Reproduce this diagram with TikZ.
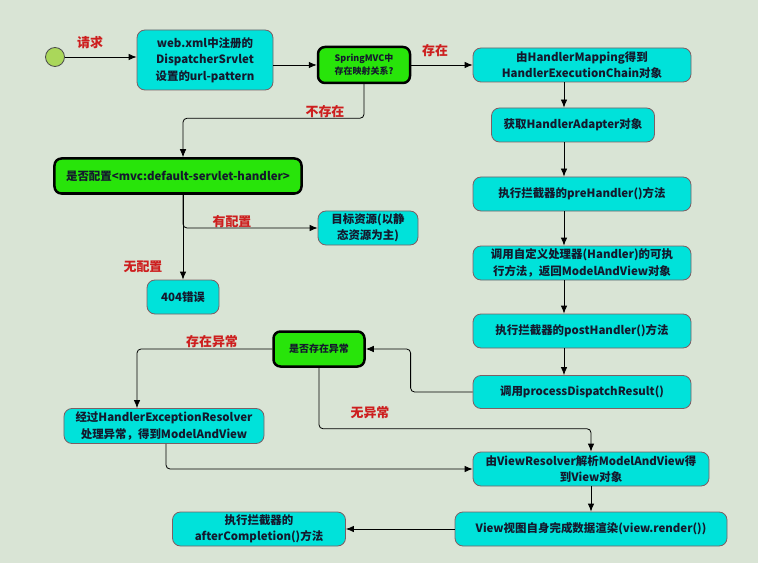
\documentclass[tikz,border=0pt]{standalone}
\usepackage{fontspec}
\setmainfont{Noto Sans CJK SC}
\usetikzlibrary{arrows.meta}

\definecolor{bgcol}{RGB}{217,228,213}
\definecolor{boxcyan}{RGB}{0,226,218}
\definecolor{boxgreen}{RGB}{40,228,10}
\definecolor{boxline}{RGB}{125,95,100}
\definecolor{startgreen}{RGB}{170,215,90}
\definecolor{labelred}{RGB}{205,30,30}
\definecolor{txt}{RGB}{20,25,45}

\begin{document}
\begin{tikzpicture}[x=1bp,y=-1bp,
  cyanbox/.style={draw=boxline,line width=0.8bp,fill=boxcyan,rounded corners=8bp,align=center,inner sep=0pt,text=txt,font=\bfseries\fontsize{11.5}{16.5}\selectfont},
  greenbox/.style={draw=black,line width=2.5bp,fill=boxgreen,rounded corners=7bp,align=center,inner sep=0pt,text=txt,font=\bfseries\fontsize{11.5}{16.5}\selectfont},
  redlabel/.style={text=labelred,inner sep=0pt,font=\bfseries\fontsize{13}{15}\selectfont},
  flow/.style={-{Latex[length=8bp,width=6.5bp]},line width=0.8bp,rounded corners=4bp}]

\fill[bgcol] (0,0) rectangle (758,563);
\useasboundingbox (0,0) rectangle (758,563);

\node at (55,57) [circle,draw=black!70,line width=0.8bp,fill=startgreen,minimum size=19bp,inner sep=0pt] (start) {};

\node at (205,60) [cyanbox,minimum width=136bp,minimum height=60bp] (web) {web.xml中注册的\\DispatcherSrvlet\\设置的url-pattern};
\node at (364,65) [greenbox,minimum width=92bp,minimum height=36bp,font=\bfseries\fontsize{9}{13}\selectfont] (spring) {SpringMVC中\\存在映射关系?};
\node at (582,65) [cyanbox,minimum width=218bp,minimum height=34bp] (hmap) {由HandlerMapping得到\\HandlerExecutionChain对象};
\node at (573,125) [cyanbox,minimum width=163bp,minimum height=34bp] (hadapt) {获取HandlerAdapter对象};
\node at (582,194) [cyanbox,minimum width=218bp,minimum height=34bp] (pre) {执行拦截器的preHandler()方法};
\node at (582,263) [cyanbox,minimum width=218bp,minimum height=34bp] (call) {调用自定义处理器(Handler)的可执\\行方法，返回ModelAndView对象};
\node at (582,331) [cyanbox,minimum width=218bp,minimum height=34bp] (post) {执行拦截器的postHandler()方法};
\node at (582,392) [cyanbox,minimum width=218bp,minimum height=33bp] (proc) {调用processDispatchResult()};

\node at (178,176) [greenbox,minimum width=247bp,minimum height=35bp] (cfg) {是否配置<mvc:default-servlet-handler>};
\node at (368,228) [cyanbox,minimum width=100bp,minimum height=34bp] (target) {目标资源(以静\\态资源为主)};
\node at (183,297) [cyanbox,minimum width=72bp,minimum height=34bp] (e404) {404错误};

\node at (319,349) [greenbox,minimum width=91bp,minimum height=35bp,font=\bfseries\fontsize{10}{13}\selectfont] (exq) {是否存在异常};
\node at (164,426) [cyanbox,minimum width=200bp,minimum height=35bp] (resolver) {经过HandlerExceptionResolver\\处理异常，得到ModelAndView};
\node at (591,469) [cyanbox,minimum width=236bp,minimum height=34bp] (vres) {由ViewResolver解析ModelAndView得\\到View对象};
\node at (591,529) [cyanbox,minimum width=272bp,minimum height=34bp] (render) {View视图自身完成数据渲染(view.render())};
\node at (259,529) [cyanbox,minimum width=173bp,minimum height=34bp] (after) {执行拦截器的\\afterCompletion()方法};

\node at (90,43) [redlabel] (lbreq) {请求};
\node at (435,51) [redlabel] (lbyes) {存在};
\node at (325,112) [redlabel] (lbno) {不存在};
\node at (232,222) [redlabel] (lbcfg) {有配置};
\node at (143,267) [redlabel] (lbnocfg) {无配置};
\node at (212,342) [redlabel] (lbexc) {存在异常};
\node at (370,413) [redlabel] (lbnoexc) {无异常};

\coordinate (spine) at (564,0);

\draw[flow] (start) -- (start -| web.west);
\draw[flow] (spring.west -| web.east) -- (spring.west);
\draw[flow] (spring) -- (hmap);
\draw[flow] (spring.south) -- ++(0,34) -| (e404.north |- cfg.north);
\draw[flow] (cfg.south -| e404.north) -- (e404.north);
\draw[flow] (cfg.south -| e404.north) |- (target.west);
\foreach \from/\to in {hmap/hadapt,hadapt/pre,pre/call,call/post,post/proc} {
	\draw[flow] (\from.south -| spine) -- (\to.north -| spine);
}
\draw[flow] (proc.west) -- ++(-62,0) |- (exq.east);
\draw[flow] (exq.west) -| ([xshift=-27bp]resolver.north);
\draw[flow] (exq.south) -- ++(0,61) -| (vres.north);
\draw[flow] ([xshift=2bp]resolver.south) |- (vres.west);
\draw[flow] (vres.south) -- (render.north);
\draw[flow] (render.west) -- (after.east);

\end{tikzpicture}
\end{document}
